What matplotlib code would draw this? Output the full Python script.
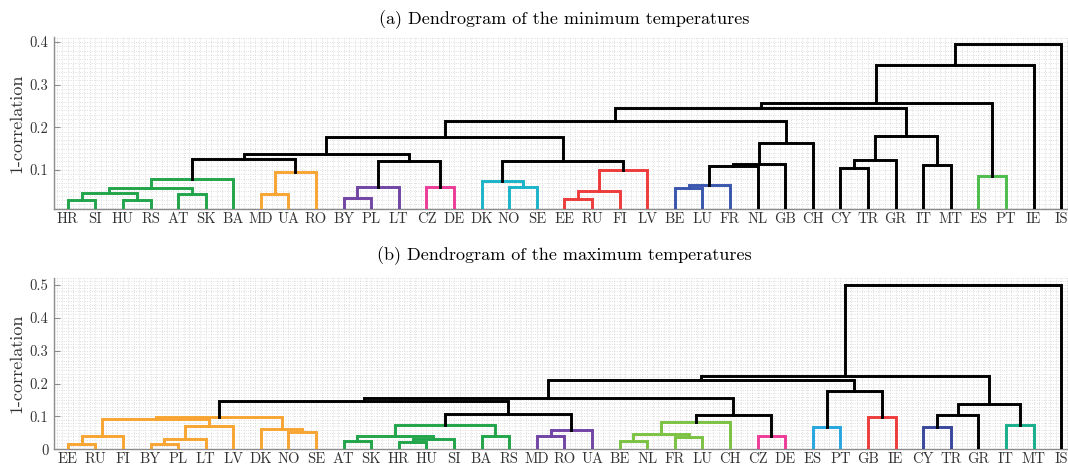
import matplotlib
matplotlib.use("Agg")
import matplotlib.pyplot as plt
from matplotlib.ticker import MultipleLocator

plt.rcParams['font.family'] = ['cmr10', 'DejaVu Serif']
plt.rcParams['axes.formatter.use_mathtext'] = True

# link colours
K = '#000000'
GREEN = '#21a54a'
ORANGE = '#f8a532'
PURPLE = '#7045a3'
PINK = '#ec3c98'
CYAN = '#1bb3c9'
RED = '#ee3b3b'
BLUE = '#3a55ae'
LGREEN = '#4cbd4c'
YGREEN = '#7cc242'
SKY = '#27a6df'
NAVY = '#39479c'
TEAL = '#17ae8c'

# (a) minimum temperatures: leaf order and links (left, right, height)
# a str child is a leaf, an int child is an earlier link
min_leaves = ['HR', 'SI', 'HU', 'RS', 'AT', 'SK', 'BA', 'MD', 'UA', 'RO', 'BY', 'PL', 'LT',
              'CZ', 'DE', 'DK', 'NO', 'SE', 'EE', 'RU', 'FI', 'LV', 'BE', 'LU', 'FR', 'NL',
              'GB', 'CH', 'CY', 'TR', 'GR', 'IT', 'MT', 'ES', 'PT', 'IE', 'IS']
min_links = [('HR', 'SI', 0.030), ('HU', 'RS', 0.030), (0, 1, 0.045), ('AT', 'SK', 0.043),
             (2, 3, 0.057), (4, 'BA', 0.078), ('MD', 'UA', 0.043), (6, 'RO', 0.095),
             (5, 7, 0.125), ('BY', 'PL', 0.034), (9, 'LT', 0.061), ('CZ', 'DE', 0.059),
             (10, 11, 0.122), (8, 12, 0.137), ('NO', 'SE', 0.059), ('DK', 14, 0.075),
             ('EE', 'RU', 0.031), (16, 'FI', 0.051), (17, 'LV', 0.100), (15, 18, 0.122),
             (13, 19, 0.178), ('BE', 'LU', 0.057), (21, 'FR', 0.065), (22, 'NL', 0.109),
             (23, 'GB', 0.114), (24, 'CH', 0.163), (20, 25, 0.215), ('CY', 'TR', 0.104),
             (27, 'GR', 0.123), ('IT', 'MT', 0.112), (28, 29, 0.180), (26, 30, 0.245),
             ('ES', 'PT', 0.086), (31, 32, 0.258), (33, 'IE', 0.346), (34, 'IS', 0.395)]
min_colors = [GREEN] * 6 + [ORANGE] * 2 + [K] + [PURPLE] * 2 + [PINK] + [K] * 2 + \
             [CYAN] * 2 + [RED] * 3 + [K] * 2 + [BLUE] * 2 + [K] * 9 + [LGREEN] + [K] * 3
min_yticks = [0.1, 0.2, 0.3, 0.4]
min_yticklabels = ['0.1', '0.2', '0.3', '0.4']

# (b) maximum temperatures
max_leaves = ['EE', 'RU', 'FI', 'BY', 'PL', 'LT', 'LV', 'DK', 'NO', 'SE', 'AT', 'SK', 'HR',
              'HU', 'SI', 'BA', 'RS', 'MD', 'RO', 'UA', 'BE', 'NL', 'FR', 'LU', 'CH', 'CZ',
              'DE', 'ES', 'PT', 'GB', 'IE', 'CY', 'TR', 'GR', 'IT', 'MT', 'IS']
max_links = [('EE', 'RU', 0.015), (0, 'FI', 0.042), ('BY', 'PL', 0.017), (2, 'LT', 0.033),
             (3, 'LV', 0.071), (1, 4, 0.091), ('NO', 'SE', 0.053), ('DK', 6, 0.061),
             (5, 7, 0.098), ('AT', 'SK', 0.027), ('HR', 'HU', 0.023), (10, 'SI', 0.033),
             (9, 11, 0.040), ('BA', 'RS', 0.042), (12, 13, 0.074), ('MD', 'RO', 0.040),
             (15, 'UA', 0.058), (14, 16, 0.108), (8, 17, 0.148), ('BE', 'NL', 0.027),
             ('FR', 'LU', 0.037), (19, 20, 0.047), (21, 'CH', 0.084), ('CZ', 'DE', 0.040),
             (22, 23, 0.106), (18, 24, 0.157), ('ES', 'PT', 0.068), ('GB', 'IE', 0.098),
             (26, 27, 0.176), (25, 28, 0.212), ('CY', 'TR', 0.068), (30, 'GR', 0.104),
             ('IT', 'MT', 0.074), (31, 32, 0.139), (29, 33, 0.222), (34, 'IS', 0.500)]
max_colors = [ORANGE] * 9 + [GREEN] * 6 + [PURPLE] * 2 + [K] * 2 + [YGREEN] * 4 + [PINK] + \
             [K] * 2 + [SKY] + [RED] + [K] * 2 + [NAVY] + [K] + [TEAL] + [K] * 3
max_yticks = [0, 0.1, 0.2, 0.3, 0.4, 0.5]
max_yticklabels = ['0', '0.1', '0.2', '0.3', '0.4', '0.5']


def draw_dendrogram(ax, leaves, links, colors):
    pos = {name: i + 1 for i, name in enumerate(leaves)}
    node_x, node_h = [], []

    def child(c):
        if isinstance(c, str):
            return pos[c], 0.0
        return node_x[c], node_h[c]

    for (a, b, h), col in zip(links, colors):
        xa, ha = child(a)
        xb, hb = child(b)
        ax.plot([xa, xa, xb, xb], [ha, h, h, hb], color=col, lw=2.1,
                solid_joinstyle='miter', zorder=3)
        node_x.append((xa + xb) / 2)
        node_h.append(h)

    ax.set_xlim(0.5, len(leaves) + 0.5)
    ax.set_xticks(range(1, len(leaves) + 1))
    ax.set_xticklabels(leaves)


def style_axes(ax, yticks, yticklabels, ylim):
    ax.set_ylim(*ylim)
    ax.set_yticks(yticks)
    ax.set_yticklabels(yticklabels)
    ax.xaxis.set_minor_locator(MultipleLocator(0.2))
    ax.yaxis.set_minor_locator(MultipleLocator(0.01))
    ax.grid(True, which='both', color='#d4d4d4', lw=0.6, linestyle=(0, (1, 1.8)))
    ax.set_axisbelow(True)
    for side in ('top', 'right'):
        ax.spines[side].set_visible(False)
    for side in ('left', 'bottom'):
        ax.spines[side].set_color('#8c8c8c')
        ax.spines[side].set_linewidth(1.0)
    ax.tick_params(which='major', direction='in', length=4.5, width=0.8, color='#8c8c8c',
                   labelsize=10.5, labelcolor='#333333', pad=4)
    ax.tick_params(axis='x', which='major', pad=2)
    ax.tick_params(which='minor', length=0)
    ax.set_ylabel('1-correlation', fontsize=13, color='#333333')
    ax.yaxis.set_label_coords(-0.029, 0.5)


fig = plt.figure(figsize=(10.68, 4.65), dpi=100)
ax_min = fig.add_axes([0.0505, 0.550, 0.956, 0.3715])
ax_max = fig.add_axes([0.0505, 0.0335, 0.956, 0.369])

draw_dendrogram(ax_min, min_leaves, min_links, min_colors)
style_axes(ax_min, min_yticks, min_yticklabels, (0.008, 0.413))
ax_min.set_title('(a) Dendrogram of the minimum temperatures', fontsize=13, pad=9)

draw_dendrogram(ax_max, max_leaves, max_links, max_colors)
style_axes(ax_max, max_yticks, max_yticklabels, (0, 0.521))
ax_max.set_title('(b) Dendrogram of the maximum temperatures', fontsize=13, pad=13)

fig.savefig('out.png', dpi=100, facecolor='white')
